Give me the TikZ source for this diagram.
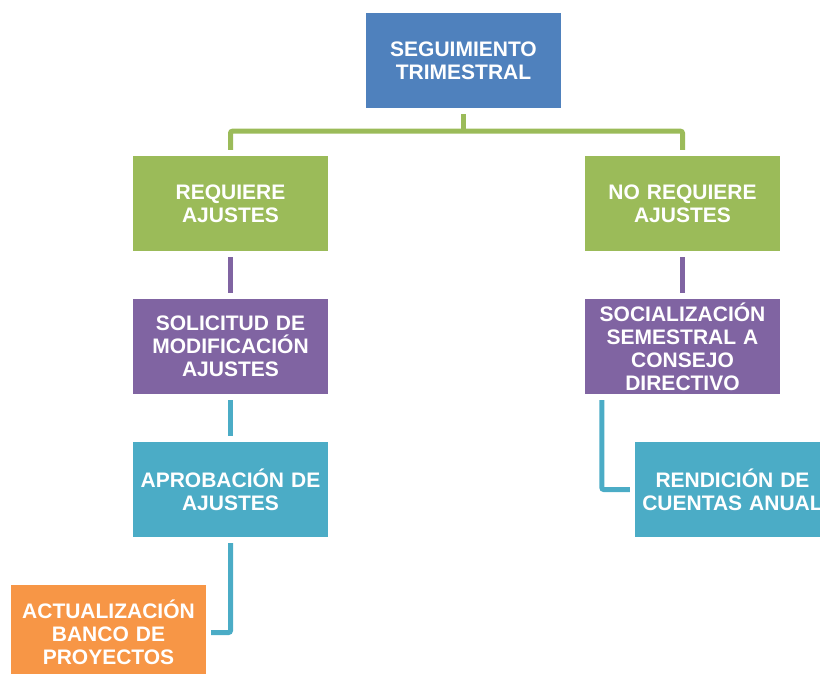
\documentclass[tikz,border=0pt]{standalone}
\usepackage{fontspec}
\setmainfont{Liberation Sans}
\definecolor{cblue}{HTML}{4F81BD}
\definecolor{cgreen}{HTML}{9BBB59}
\definecolor{cpurple}{HTML}{8064A2}
\definecolor{cteal}{HTML}{4BACC6}
\definecolor{corange}{HTML}{F79646}
\tikzset{
  boxstyle/.style={minimum width=195pt, minimum height=95pt, inner sep=0pt, text width=193pt, align=center, text=white, font=\fontsize{21}{23}\selectfont\bfseries},
  bluebox/.style={boxstyle, fill=cblue},
  greenbox/.style={boxstyle, fill=cgreen},
  purplebox/.style={boxstyle, fill=cpurple},
  tealbox/.style={boxstyle, fill=cteal},
  orangebox/.style={boxstyle, fill=corange},
  gline/.style={draw=cgreen, line width=5pt, rounded corners=2pt},
  pline/.style={draw=cpurple, line width=5pt},
  tline/.style={draw=cteal, line width=5pt, rounded corners=2pt}
}
\begin{document}
\begin{tikzpicture}[x=1pt,y=-1pt]
\useasboundingbox (0,0) rectangle (820,674);
\node[bluebox] (top) at (463.5,60.5) {SEGUIMIENTO\\TRIMESTRAL};
\node[greenbox] (req) at (230.5,203.5) {REQUIERE\\AJUSTES};
\node[greenbox] (noreq) at (682.5,203.5) {NO REQUIERE\\AJUSTES};
\node[purplebox] (sol) at (230.5,346.5) {SOLICITUD DE\\MODIFICACIÓN\\AJUSTES};
\node[purplebox] (soc) at (682.5,346.5) {SOCIALIZACIÓN\\SEMESTRAL A\\CONSEJO\\DIRECTIVO};
\node[tealbox] (apr) at (230.5,489.5) {APROBACIÓN DE\\AJUSTES};
\node[tealbox] (ren) at (732.5,489.5) {RENDICIÓN DE\\CUENTAS ANUAL};
\node[orangebox] (act) at (108.5,632.5) {ACTUALIZACIÓN\\BANCO DE\\PROYECTOS};
% green connectors
\draw[gline] ([yshift=6pt]req.north) |- ([yshift=-23pt]top.south) -| ([yshift=6pt]noreq.north);
\draw[gline] ([yshift=-6pt]top.south) -- ([yshift=-23pt]top.south);
% purple connectors
\draw[pline] ([yshift=-6pt]req.south) -- ([yshift=6pt]sol.north);
\draw[pline] ([yshift=-6pt]noreq.south) -- ([yshift=6pt]soc.north);
% teal connectors
\draw[tline] ([yshift=-6pt]sol.south) -- ([yshift=6pt]apr.north);
\draw[tline] ([yshift=-6pt]apr.south) |- ([xshift=5pt]act.east);
\draw[tline] ([xshift=17pt,yshift=-6pt]soc.south west) |- ([xshift=-5pt]ren.west);
\end{tikzpicture}
\end{document}
